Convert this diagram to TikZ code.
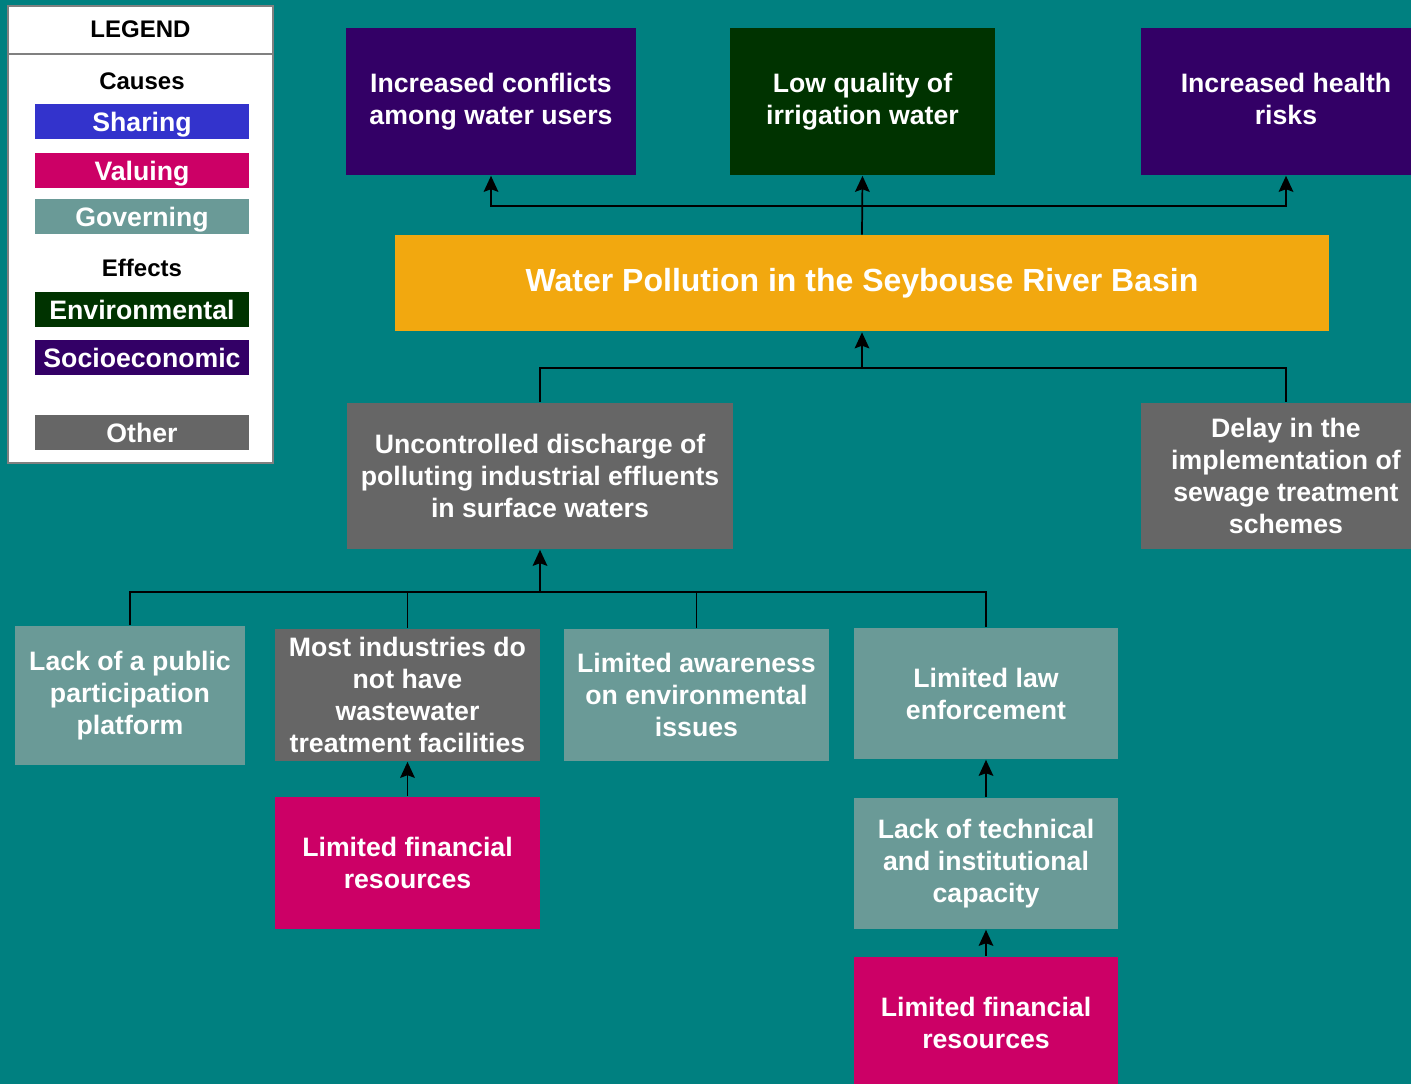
\documentclass[tikz,border=0pt]{standalone}
\usepackage{fontspec}
\setmainfont{Liberation Sans}
\usetikzlibrary{arrows.meta}

\definecolor{tealbg}{HTML}{008080}
\definecolor{sharing}{HTML}{3333CC}
\definecolor{valuing}{HTML}{CC0066}
\definecolor{governing}{HTML}{6A9A97}
\definecolor{enviro}{HTML}{003300}
\definecolor{socio}{HTML}{330066}
\definecolor{other}{HTML}{666666}
\definecolor{problem}{HTML}{F2A80F}

\begin{document}
\begin{tikzpicture}[x=0.75pt,y=-0.75pt,line width=1.3pt,
	link/.style={-{Stealth[length=12pt,width=11pt,inset=2pt]}},
	box/.style={rectangle,inner sep=0pt,text=white,align=center,font=\fontsize{20}{24}\selectfont\bfseries},
	key/.style={box,minimum width=160.5pt,minimum height=26.25pt},
	head/.style={font=\fontsize{18}{22}\selectfont\bfseries}]
	\path[use as bounding box,fill=tealbg] (0,0) rectangle (1411,1084);

	% legend
	\draw[gray,line width=1.5pt,fill=white] (8,6) rectangle (273,463);
	\draw[gray,line width=1pt] (8,54) -- (273,54);
	\node[head] (legendtitle) at (140.5,29) {LEGEND};
	\node[head] (causes) at (142,81) {Causes};
	\node[key,fill=sharing,text depth=0pt] (ksharing) at (142,121.5) {Sharing};
	\node[key,fill=valuing,text depth=0pt] (kvaluing) at (142,170.5) {Valuing};
	\node[key,fill=governing,text depth=0pt] (kgoverning) at (142,216.5) {Governing};
	\node[head] (effects) at (142,268) {Effects};
	\node[key,fill=enviro] (kenviro) at (142,309.5) {Environmental};
	\node[key,fill=socio] (ksocio) at (142,357.5) {Socioeconomic};
	\node[key,fill=other] (kother) at (142,432.5) {Other};

	% effects
	\node[box,fill=socio,minimum width=217.5pt,minimum height=110.25pt] (conflicts) at (491,101.5) {Increased conflicts\\among water users};
	\node[box,fill=enviro,minimum width=198.75pt,minimum height=110.25pt] (lowquality) at (862.5,101.5) {Low quality of\\irrigation water};
	\node[box,fill=socio,minimum width=217.5pt,minimum height=110.25pt] (health) at (1286,101.5) {Increased health\\risks\vphantom{g}};

	% core problem
	\node[box,fill=problem,minimum width=700.5pt,minimum height=72pt,font=\fontsize{24}{29}\selectfont\bfseries] (pollution) at (862,283.5) {Water Pollution in the Seybouse River Basin};

	% causes
	\node[box,fill=other,minimum width=289.5pt,minimum height=109.5pt] (discharge) at (540,476) {Uncontrolled discharge of\\polluting industrial effluents\\in surface waters};
	\node[box,fill=other,minimum width=217.5pt,minimum height=109.5pt] (delay) at (1286,476) {Delay in the\\implementation of\\sewage treatment\\schemes};
	\node[box,fill=governing,minimum width=172.5pt,minimum height=104.25pt] (platform) at (130,695.5) {Lack of a public\\participation\\platform};
	\node[box,fill=other,minimum width=198.75pt,minimum height=99pt] (facilities) at (407.5,695) {Most industries do\\not have\\wastewater\\treatment facilities};
	\node[box,fill=governing,minimum width=198.75pt,minimum height=99pt] (awareness) at (696.5,695) {Limited awareness\\on environmental\\issues};
	\node[box,fill=governing,minimum width=198pt,minimum height=98.25pt] (law) at (986,693.5) {Limited law\\enforcement};
	\node[box,fill=valuing,minimum width=198.75pt,minimum height=99pt] (finance1) at (407.5,863) {Limited financial\\resources};
	\node[box,fill=governing,minimum width=198pt,minimum height=98.25pt] (capacity) at (986,863.5) {Lack of technical\\and institutional\\capacity};
	\node[box,fill=valuing,minimum width=198pt,minimum height=99pt] (finance2) at (986,1023) {Limited financial\\resources};

	% connectors
	\coordinate (topbus) at (862,206);
	\coordinate (midbus) at (862,368);
	\coordinate (lowbus) at (540,592);
	\draw[link] (pollution.north) -- (lowquality.south);
	\draw[link] (topbus) -| (conflicts.south);
	\draw[link] (topbus) -| (health.south);
	\draw[link] (midbus) -- (pollution.south);
	\draw (discharge.north) |- (delay.north |- midbus) -- (delay.north);
	\draw[link] (lowbus) -- (discharge.south);
	\draw (platform.north) |- (law.north |- lowbus) -- (law.north);
	\draw (facilities.north) -- (facilities.north |- lowbus);
	\draw (awareness.north) -- (awareness.north |- lowbus);
	\path[link]
		(finance1) edge (facilities)
		(capacity) edge (law)
		(finance2) edge (capacity);
\end{tikzpicture}
\end{document}
